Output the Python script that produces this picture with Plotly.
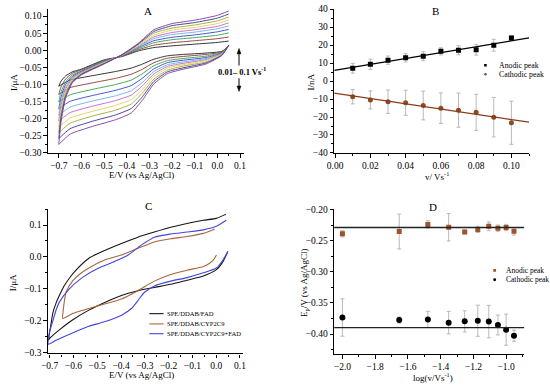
import plotly.graph_objects as go
import numpy as np

W, H = 550, 389
FONT = "Liberation Serif"


def px(x):
    return x / W


def py(y):
    return 1 - y / H


# ---------------- Panel A : CVs at 0.01-0.1 V/s ----------------
scan_rates = [0.01, 0.02, 0.03, 0.04, 0.05, 0.06, 0.07, 0.08, 0.09, 0.10]
E_fwd = [-0.70, -0.69, -0.67, -0.64, -0.60, -0.50, -0.42, -0.35, -0.28, -0.20, -0.10, 0.00, 0.05]
E_rev = [0.05, 0.02, -0.05, -0.15, -0.22, -0.28, -0.33, -0.38, -0.45, -0.55, -0.65, -0.70]
I_fwd = [
    [-0.105, -0.090, -0.075, -0.063, -0.055, -0.028, -0.018, -0.002, 0.008, 0.013, 0.018, 0.023, 0.027],
    [-0.129, -0.107, -0.084, -0.067, -0.057, -0.030, -0.017, 0.001, 0.015, 0.022, 0.028, 0.034, 0.039],
    [-0.151, -0.122, -0.093, -0.072, -0.060, -0.031, -0.016, 0.004, 0.022, 0.031, 0.037, 0.044, 0.051],
    [-0.171, -0.137, -0.100, -0.076, -0.062, -0.033, -0.016, 0.007, 0.028, 0.038, 0.045, 0.054, 0.061],
    [-0.190, -0.150, -0.108, -0.079, -0.064, -0.034, -0.015, 0.009, 0.034, 0.046, 0.053, 0.063, 0.071],
    [-0.207, -0.162, -0.114, -0.082, -0.065, -0.035, -0.014, 0.011, 0.039, 0.052, 0.060, 0.070, 0.080],
    [-0.224, -0.174, -0.121, -0.085, -0.067, -0.036, -0.014, 0.013, 0.044, 0.059, 0.067, 0.078, 0.089],
    [-0.241, -0.186, -0.127, -0.089, -0.069, -0.038, -0.013, 0.016, 0.050, 0.065, 0.074, 0.086, 0.097],
    [-0.258, -0.198, -0.134, -0.092, -0.070, -0.039, -0.013, 0.018, 0.055, 0.072, 0.081, 0.094, 0.106],
    [-0.275, -0.210, -0.140, -0.095, -0.072, -0.040, -0.012, 0.020, 0.060, 0.078, 0.088, 0.102, 0.115],
]
I_rev = [
    [0.012, -0.003, -0.008, -0.012, -0.016, -0.026, -0.040, -0.052, -0.062, -0.074, -0.087, -0.105],
    [0.012, -0.005, -0.012, -0.018, -0.023, -0.036, -0.055, -0.070, -0.082, -0.095, -0.109, -0.129],
    [0.013, -0.006, -0.017, -0.024, -0.030, -0.045, -0.068, -0.087, -0.100, -0.114, -0.130, -0.151],
    [0.013, -0.008, -0.021, -0.029, -0.036, -0.054, -0.081, -0.103, -0.117, -0.132, -0.149, -0.171],
    [0.013, -0.009, -0.024, -0.034, -0.042, -0.062, -0.093, -0.118, -0.133, -0.148, -0.166, -0.190],
    [0.014, -0.010, -0.027, -0.038, -0.047, -0.069, -0.103, -0.131, -0.147, -0.163, -0.182, -0.207],
    [0.014, -0.011, -0.030, -0.042, -0.052, -0.076, -0.114, -0.144, -0.161, -0.178, -0.198, -0.224],
    [0.014, -0.013, -0.034, -0.046, -0.058, -0.084, -0.124, -0.157, -0.175, -0.192, -0.213, -0.241],
    [0.015, -0.014, -0.037, -0.051, -0.063, -0.091, -0.135, -0.170, -0.189, -0.207, -0.229, -0.258],
    [0.015, -0.015, -0.040, -0.055, -0.068, -0.098, -0.145, -0.183, -0.203, -0.222, -0.245, -0.275],
]
A_colors = ["#1e1e1e", "#8b3535", "#34a045", "#3044c8", "#66aee8",
            "#c860c8", "#dcd448", "#a4a43a", "#34348e", "#7c3c9c"]

# ---------------- Panel B : peak current vs scan rate ----------------
v = [0.01, 0.02, 0.03, 0.04, 0.05, 0.06, 0.07, 0.08, 0.09, 0.10]
Ipa = [7.1, 9.3, 11.6, 12.9, 13.8, 16.5, 17.1, 17.4, 19.9, 23.9]
Ipa_err = [2.7, 2.8, 2.3, 2.3, 2.5, 2.0, 2.5, 3.0, 3.3, 1.2]
Ipc = [-8.7, -10.5, -11.5, -12.1, -13.6, -15.1, -16.2, -17.4, -20.1, -23.2]
Ipc_err = [4.0, 5.0, 6.5, 7.0, 8.0, 8.5, 9.5, 10.0, 11.0, 12.0]
B_xrange = [-0.0005, 0.11]

# ---------------- Panel C : three electrodes ----------------
C_fad_E = [0.049, 0.029, 0.001, -0.054, -0.123, -0.191, -0.260, -0.329, -0.398, -0.466, -0.535, -0.604,
           -0.659, -0.700, -0.705, -0.695, -0.686, -0.673, -0.655, -0.638, -0.610, -0.590, -0.535, -0.466,
           -0.398, -0.329, -0.260, -0.191, -0.123, -0.054, 0.001, 0.035, 0.040]
C_fad_I = [0.017, -0.014, -0.040, -0.060, -0.073, -0.086, -0.096, -0.106, -0.121, -0.142, -0.167, -0.198,
           -0.229, -0.256, -0.262, -0.215, -0.175, -0.145, -0.115, -0.090, -0.060, -0.042, -0.004, 0.021,
           0.042, 0.062, 0.078, 0.093, 0.105, 0.115, 0.121, 0.132, 0.134]
C_cyp_E = [0.001, -0.010, -0.026, -0.054, -0.123, -0.191, -0.260, -0.329, -0.398, -0.466, -0.535, -0.604,
           -0.645, -0.643, -0.640, -0.631, -0.604, -0.570, -0.535, -0.466, -0.398, -0.329, -0.260, -0.191,
           -0.123, -0.054, -0.006]
C_cyp_I = [0.006, -0.008, -0.019, -0.030, -0.042, -0.055, -0.076, -0.106, -0.132, -0.147, -0.162, -0.178,
           -0.193, -0.170, -0.150, -0.111, -0.076, -0.052, -0.035, -0.009, 0.006, 0.027, 0.047, 0.057,
           0.064, 0.074, 0.088]
C_cypfad_E = [0.049, 0.029, 0.001, -0.054, -0.123, -0.191, -0.260, -0.301, -0.329, -0.356, -0.398, -0.466,
              -0.535, -0.604, -0.673, -0.705, -0.700, -0.686, -0.672, -0.659, -0.618, -0.563, -0.494, -0.425,
              -0.370, -0.315, -0.260, -0.191, -0.123, -0.054, 0.001, 0.042]
C_cypfad_I = [0.017, -0.009, -0.035, -0.050, -0.065, -0.076, -0.091, -0.111, -0.137, -0.162, -0.183, -0.203,
              -0.218, -0.239, -0.262, -0.274, -0.235, -0.200, -0.165, -0.142, -0.101, -0.065, -0.035, -0.014,
              0.006, 0.037, 0.062, 0.072, 0.078, 0.085, 0.096, 0.115]
C_names = ["SPE/DDAB/FAD", "SPE/DDAB/CYP2C9", "SPE/DDAB/CYP2C9+FAD"]
C_colors = ["#141414", "#a8663e", "#4444dd"]

# ---------------- Panel D : peak potential vs log(v) ----------------
logv = [-2.0, -1.653, -1.478, -1.351, -1.253, -1.173, -1.106, -1.050, -1.000, -0.952]
Epa = [-0.239, -0.2355, -0.224, -0.2287, -0.236, -0.232, -0.227, -0.230, -0.229, -0.235]
Epa_err = [0.005, 0.028, 0.006, 0.022, 0.003, 0.005, 0.007, 0.005, 0.005, 0.006]
Epc = [-0.3734, -0.3775, -0.3765, -0.3817, -0.3796, -0.3786, -0.380, -0.3854, -0.393, -0.4026]
Epc_err = [0.030, 0.005, 0.013, 0.018, 0.017, 0.025, 0.026, 0.016, 0.025, 0.009]
Epa_level = -0.229
Epc_level = -0.3896

fig = go.Figure()

# Panel A
for k in range(len(scan_rates)):
    fig.add_trace(go.Scatter(
        x=E_rev + E_fwd, y=I_rev[k] + I_fwd[k], mode="lines",
        line=dict(color=A_colors[k], width=0.9, shape="spline", smoothing=0.5),
        xaxis="x", yaxis="y", showlegend=False, hoverinfo="skip"))

# Panel B
for xs_, ys_, err, col, sym in [(v, Ipa, Ipa_err, "#000000", "square"),
                                 (v, Ipc, Ipc_err, "#8b4a20", "circle")]:
    fig.add_trace(go.Scatter(
        x=xs_, y=ys_, mode="markers",
        marker=dict(symbol=sym, size=5, color=col),
        error_y=dict(type="data", array=err, color="#a8a8a8", thickness=0.8, width=2),
        xaxis="x2", yaxis="y2", showlegend=False))
xl = np.array(B_xrange)
for ys_, col in [(Ipa, "#000000"), (Ipc, "#8b3a1a")]:
    m, b = np.polyfit(v, ys_, 1)
    fig.add_trace(go.Scatter(x=xl, y=m * xl + b, mode="lines",
                             line=dict(color=col, width=1.3),
                             xaxis="x2", yaxis="y2", showlegend=False))

# Panel C
for E_, I_, col in [(C_fad_E, C_fad_I, C_colors[0]), (C_cyp_E, C_cyp_I, C_colors[1]),
                    (C_cypfad_E, C_cypfad_I, C_colors[2])]:
    fig.add_trace(go.Scatter(x=E_, y=I_, mode="lines",
                             line=dict(color=col, width=1.1, shape="spline", smoothing=0.6),
                             xaxis="x3", yaxis="y3", showlegend=False))

# Panel D
for ys_, err, col, sym, sz in [(Epa, Epa_err, "#a0522d", "square", 5),
                               (Epc, Epc_err, "#000000", "circle", 6)]:
    fig.add_trace(go.Scatter(
        x=logv, y=ys_, mode="markers",
        marker=dict(symbol=sym, size=sz, color=col),
        error_y=dict(type="data", array=err, color="#a8a8a8", thickness=0.8, width=2),
        xaxis="x4", yaxis="y4", showlegend=False))


def axis(domain, rng, dtick, tick0, fmt, minor_dtick, anchor):
    return dict(domain=domain, range=rng, dtick=dtick, tick0=tick0, tickformat=fmt,
                ticks="outside", ticklen=3.5, tickwidth=1, tickcolor="black",
                showline=True, linecolor="black", linewidth=1.3,
                showgrid=False, zeroline=False, anchor=anchor,
                tickfont=dict(family=FONT, size=9.5, color="black"),
                minor=dict(dtick=minor_dtick, tick0=tick0, ticks="outside", ticklen=2,
                           tickwidth=1, tickcolor="black", showgrid=False))


xA = [px(41.7), px(241.7)]
yA = [py(152.7), py(5)]
xB = [px(333.3), px(531.7)]
xC = [px(41.7), px(240.7)]
yC = [py(357.7), py(210)]
xD = [px(333.3), px(526.7)]
yD = [py(358.3), py(210)]

shapes = []
# horizontal mean lines in D
for lvl in [Epa_level, Epc_level]:
    shapes.append(dict(type="line", xref="x4 domain", yref="y4", x0=0, x1=1, y0=lvl, y1=lvl,
                       line=dict(color="#222222", width=1.3)))

annotations = []


def txt(x, y, s, size=9, angle=0, xanchor="center", color="black"):
    annotations.append(dict(x=px(x), y=py(y), xref="paper", yref="paper", text=s, showarrow=False,
                            textangle=angle, xanchor=xanchor, yanchor="middle",
                            font=dict(family=FONT, size=size, color=color)))


# panel letters
txt(144, 7.5, "A", 11)
txt(436, 7, "B", 11)
txt(144, 207, "C", 11)
txt(434, 207.5, "D", 11)
# axis titles
txt(7, 80, "I/μA", 9, -90)
txt(136.7, 175, "E/V (vs Ag/AgCl)", 9)
txt(310, 80, "I/nA", 9, -90)
txt(438, 176.5, "v/ Vs<sup>-1</sup>", 9)
txt(7, 285, "I/μA", 9, -90)
txt(136.7, 380, "E/V (vs Ag/AgCl)", 9)
txt(303, 285, "E<sub>p</sub>/V (vs Ag/AgCl)", 9, -90)
txt(434, 381.5, "log(v/Vs<sup>-1</sup>)", 9)

# scan rate annotation in A: double arrow drawn as shapes
txt(213, 69.5, "<b>0.01– 0.1 Vs<sup>-1</sup></b>", 8.5, xanchor="left")
ax_x = 236.3
for y0, y1 in [(48, 63), (76, 87)]:
    shapes.append(dict(type="line", xref="paper", yref="paper", x0=px(ax_x), x1=px(ax_x),
                       y0=py(y0), y1=py(y1), line=dict(color="black", width=1)))
shapes.append(dict(type="path", xref="paper", yref="paper",
                   path=f"M {px(ax_x - 2)} {py(51)} L {px(ax_x)} {py(45.5)} L {px(ax_x + 2)} {py(51)} Z",
                   fillcolor="black", line=dict(color="black", width=0.5)))
shapes.append(dict(type="path", xref="paper", yref="paper",
                   path=f"M {px(ax_x - 2)} {py(84)} L {px(ax_x)} {py(89.5)} L {px(ax_x + 2)} {py(84)} Z",
                   fillcolor="black", line=dict(color="black", width=0.5)))

# legend B
shapes.append(dict(type="rect", xref="paper", yref="paper",
                   x0=px(486), x1=px(488.6), y0=py(61.4), y1=py(64), fillcolor="black",
                   line=dict(width=0)))
shapes.append(dict(type="circle", xref="paper", yref="paper",
                   x0=px(486), x1=px(488.6), y0=py(70.7), y1=py(73.3), fillcolor="#8b4a20",
                   line=dict(width=0)))
txt(499, 62.7, "Anodic peak", 7.8, xanchor="left")
txt(499, 72, "Cathodic peak", 7.8, xanchor="left")

# legend C
for i, yy in enumerate([317, 327.5, 337.5]):
    shapes.append(dict(type="line", xref="paper", yref="paper", x0=px(145), x1=px(159.5),
                       y0=py(yy), y1=py(yy), line=dict(color=C_colors[i], width=1.1)))
    txt(161, yy, C_names[i], 6.6, xanchor="left")

# legend D
shapes.append(dict(type="rect", xref="paper", yref="paper",
                   x0=px(495.3), x1=px(498.1), y0=py(271.3), y1=py(274.1), fillcolor="#a0522d",
                   line=dict(width=0)))
shapes.append(dict(type="circle", xref="paper", yref="paper",
                   x0=px(495.2), x1=px(498.2), y0=py(280.8), y1=py(283.8), fillcolor="black",
                   line=dict(width=0)))
txt(506.5, 272.7, "Anodic peak", 7.5, xanchor="left")
txt(506.5, 282.3, "Cathodic peak", 7.5, xanchor="left")

fig.update_layout(
    width=W, height=H, margin=dict(l=0, r=0, t=0, b=0),
    paper_bgcolor="white", plot_bgcolor="white", showlegend=False,
    font=dict(family=FONT, color="black"),
    xaxis=axis(xA, [-0.7477, 0.119], 0.1, 0, ".1f", 0.05, "y"),
    yaxis=axis(yA, [-0.3005, 0.121], 0.05, 0, ".2f", 0.025, "x"),
    xaxis2=axis(xB, B_xrange, 0.02, 0, ".2f", 0.01, "y2"),
    yaxis2=axis(yA, [-40.1, 40.1], 10, 0, "d", 5, "x2"),
    xaxis3=axis(xC, [-0.707, 0.114], 0.1, 0, ".1f", 0.05, "y3"),
    yaxis3=axis(yC, [-0.303, 0.15], 0.1, 0, ".1f", 0.05, "x3"),
    xaxis4=axis(xD, [-2.05, -0.89], 0.2, -2.0, ".1f", 0.1, "y4"),
    yaxis4=axis(yD, [-0.432, -0.1995], 0.05, -0.2, ".2f", 0.025, "x4"),
    shapes=shapes, annotations=annotations,
)

fig.write_html("out.html", config={"displayModeBar": False},
               post_script="document.body.style.margin='0';document.body.style.overflow='hidden';")
